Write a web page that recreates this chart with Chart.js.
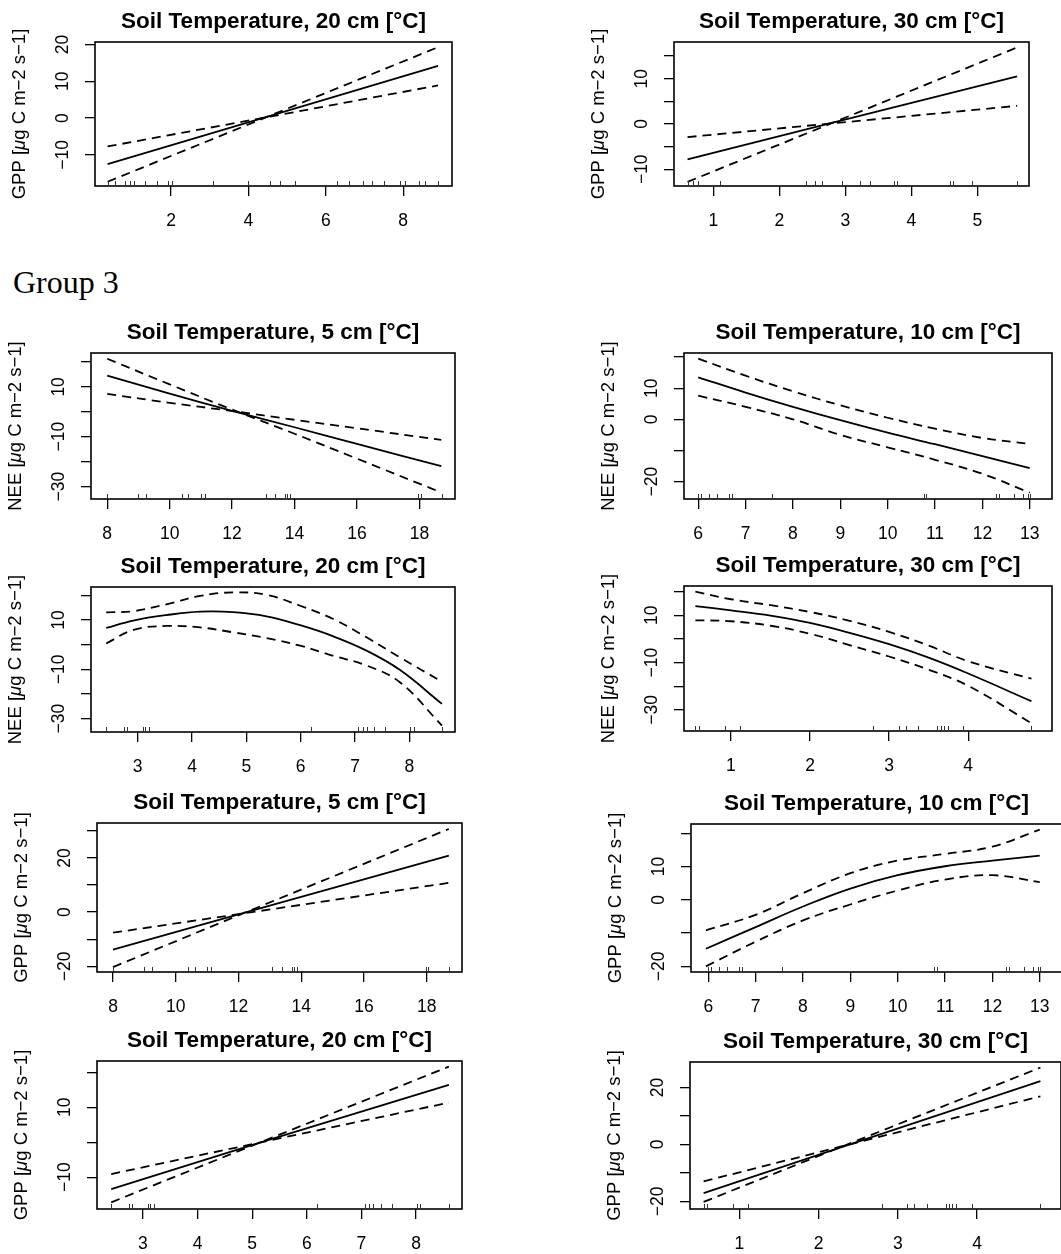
<!DOCTYPE html>
<html>
<head>
<meta charset="utf-8">
<script src="https://cdn.jsdelivr.net/npm/chart.js@4.4.0/dist/chart.umd.min.js"></script>
<style>
html, body { margin: 0; padding: 0; background: #fff; }
body { width: 1061px; height: 1254px; overflow: hidden; position: relative; }
.panel { position: absolute; }
#group { position: absolute; left: 13px; top: 266px; font: 32px "Liberation Serif", "Times New Roman", serif; line-height: 32px; color: #000; }
</style>
</head>
<body>
<div id="group">Group 3</div>
<script>
// ---- rug: observed soil temperatures for each depth ----
var rug20a = [0.36, 0.55, 0.81, 0.94, 1.03, 1.33, 1.63, 1.93, 2.02, 3.09, 4.0, 4.56, 4.82, 5.21, 6.28, 6.59, 6.97, 7.19, 7.49, 7.92, 8.05, 8.4, 8.57, 8.9];
var rug30a = [0.61, 0.70, 0.77, 1.10, 2.41, 2.54, 2.64, 2.95, 3.22, 3.37, 3.73, 3.78, 4.58, 4.63, 4.92, 5.6];
var rug5 = [8.0, 8.99, 9.23, 10.38, 10.6, 11.0, 11.13, 13.08, 13.37, 13.7, 13.77, 13.86, 17.97, 18.04, 18.71];
var rug10 = [6.0, 6.05, 6.23, 6.4, 6.65, 6.72, 7.56, 10.77, 10.82, 12.29, 12.36, 12.67, 12.85, 12.96, 13.0];
var rug20b = [2.42, 2.75, 2.8, 3.09, 3.13, 3.2, 6.19, 7.06, 7.14, 7.22, 7.35, 7.55, 8.01, 8.08, 8.6];
var rug30b = [0.55, 0.59, 0.92, 1.11, 2.80, 3.12, 3.21, 3.37, 3.61, 3.65, 3.69, 3.74, 3.94, 4.8];

// ---- fitted smooth (solid) and the two dashed bands, per panel ----
// top block, GPP 20 cm
var p1X = [0.36, 4.45, 8.9];
var p1Fit = [-12.5, 0.3, 14.2];
var p1A = [-7.7, 0.2, 8.9];
var p1B = [-17.3, 0.2, 19.3];
// top block, GPP 30 cm
var p2X = [0.61, 2.78, 5.6];
var p2Fit = [-7.8, 0.2, 10.5];
var p2A = [-2.9, 0.1, 4.0];
var p2B = [-12.8, 0.1, 16.9];
// group 3, NEE 5 cm
var p3X = [8, 10, 12, 14, 16, 18.7];
var p3Fit = [14.5, 7.3, 0.4, -6.2, -12.9, -21.8];
var p3A = [7.2, 3.6, 0.3, -3.2, -6.6, -11.3];
var p3B = [21.3, 11.0, 0.9, -8.8, -18.8, -32.4];
// group 3, NEE 10 cm
var p4X = [6, 7, 8, 9, 10, 11, 12, 13];
var p4Fit = [13.5, 8.6, 4.0, -0.3, -4.3, -8.0, -11.8, -15.7];
var p4A = [19.5, 14.0, 9.0, 4.5, 0.5, -3.0, -6.0, -7.9];
var p4B = [7.6, 4.0, 0.0, -5.0, -9.0, -13.0, -17.5, -23.6];
// group 3, NEE 20 cm
var p5X = [2.42, 2.92, 3.53, 4.15, 4.76, 5.37, 5.99, 6.6, 7.22, 7.83, 8.6];
var p5Fit = [6.8, 9.8, 12.0, 13.4, 13.2, 11.5, 7.9, 3.4, -2.5, -10.3, -24.0];
var p5A = [13.1, 13.6, 16.4, 19.8, 21.2, 20.2, 15.8, 10.4, 2.9, -5.2, -15.0];
var p5B = [0.5, 6.0, 7.6, 7.0, 5.0, 2.7, -0.4, -4.5, -8.5, -15.3, -32.8];
// group 3, NEE 30 cm
var p6X = [0.55, 1, 1.5, 2, 2.5, 3, 3.5, 4, 4.8];
var p6Fit = [13.9, 12.1, 9.9, 6.8, 2.6, -2.2, -7.9, -14.6, -26.3];
var p6A = [20.0, 16.8, 14.3, 11.4, 7.7, 3.0, -2.8, -9.4, -16.8];
var p6B = [7.9, 7.5, 5.6, 2.2, -2.6, -7.4, -13.0, -19.8, -35.6];
// group 3, GPP 5 cm
var p7X = [8, 12.14, 18.7];
var p7Fit = [-13.8, -0.4, 20.9];
var p7A = [-7.6, -0.5, 10.8];
var p7B = [-20.3, -0.5, 30.7];
// group 3, GPP 10 cm
var p8X = [5.95, 7, 8, 9, 10, 11, 12, 13];
var p8Fit = [-14.7, -8.2, -2.0, 3.4, 7.4, 10.1, 11.8, 13.3];
var p8A = [-9.2, -4.5, 2.0, 8.0, 11.8, 13.8, 16.0, 21.1];
var p8B = [-20.0, -12.6, -6.2, -1.4, 2.8, 6.1, 7.4, 5.3];
// group 3, GPP 20 cm
var p9X = [2.42, 5.14, 8.6];
var p9Fit = [-13.4, -0.1, 16.4];
var p9A = [-9.1, -0.1, 11.3];
var p9B = [-17.2, -0.1, 21.6];
// group 3, GPP 30 cm
var p10X = [0.55, 2.32, 4.8];
var p10Fit = [-17.1, -0.7, 22.2];
var p10A = [-13.0, -0.5, 16.9];
var p10B = [-20.2, -0.5, 27.0];

// ---- axis ticks (yl = the tick values R actually labelled) ----
var xt1 = [2, 4, 6, 8],           yt1 = [-10, 0, 10, 20],           yl1 = [-10, 0, 10, 20];
var xt2 = [1, 2, 3, 4, 5],        yt2 = [-10, -5, 0, 5, 10, 15],    yl2 = [-10, 0, 10];
var xt3 = [8, 10, 12, 14, 16, 18], yt3 = [-30, -20, -10, 0, 10, 20], yl3 = [-30, -10, 10];
var xt4 = [6, 7, 8, 9, 10, 11, 12, 13], yt4 = [-20, -10, 0, 10, 20], yl4 = [-20, 0, 10];
var xt5 = [3, 4, 5, 6, 7, 8],     yt5 = [-30, -20, -10, 0, 10, 20], yl5 = [-30, -10, 10];
var xt6 = [1, 2, 3, 4],           yt6 = [-30, -20, -10, 0, 10, 20], yl6 = [-30, -10, 10];
var xt7 = [8, 10, 12, 14, 16, 18], yt7 = [-20, -10, 0, 10, 20, 30], yl7 = [-20, 0, 20];
var xt8 = [6, 7, 8, 9, 10, 11, 12, 13], yt8 = [-20, -10, 0, 10, 20], yl8 = [-20, 0, 10];
var xt9 = [3, 4, 5, 6, 7, 8],     yt9 = [-10, 0, 10, 20],           yl9 = [-10, 10];
var xt10 = [1, 2, 3, 4],          yt10 = [-20, -10, 0, 10, 20],     yl10 = [-20, 0, 20];

var depth = ['20', '30', '5', '10', '20', '30', '5', '10', '20', '30'];
var flux = ['GPP', 'GPP', 'NEE', 'NEE', 'NEE', 'NEE', 'GPP', 'GPP', 'GPP', 'GPP'];

var FONT = '"Liberation Sans", Arial, Helvetica, sans-serif';

function minus(v) {
    return String(v).replace('-', '\u2212');
}

// box, rug, title, rotated y labels and y title the way R base graphics draws them
var rPlot = {
    id: 'rPlot',
    afterDraw: function (chart, args, o) {
        var ctx = chart.ctx, a = chart.chartArea;
        var xs = chart.scales.x, ys = chart.scales.y;
        ctx.save();
        ctx.strokeStyle = '#000';
        ctx.lineWidth = 1.6;
        ctx.strokeRect(a.left, a.top, a.right - a.left, a.bottom - a.top);

        ctx.lineWidth = 1;
        ctx.strokeStyle = '#333';
        o.rug.forEach(function (v) {
            var px = Math.round(xs.getPixelForValue(v)) + 0.5;
            ctx.beginPath();
            ctx.moveTo(px, a.bottom);
            ctx.lineTo(px, a.bottom - 5);
            ctx.stroke();
        });

        ctx.fillStyle = '#000';
        ctx.textAlign = 'center';
        ctx.textBaseline = 'middle';
        ctx.font = 'bold 22.5px ' + FONT;
        ctx.fillText(o.title, (a.left + a.right) / 2, a.top - 20);

        ctx.font = '17.5px ' + FONT;
        o.yLabels.forEach(function (v) {
            ctx.save();
            ctx.translate(a.left - 32, ys.getPixelForValue(v));
            ctx.rotate(-Math.PI / 2);
            ctx.fillText(minus(v), 0, 0);
            ctx.restore();
        });

        // y title with italic mu
        var parts = [[o.flux + ' [', '18.5px ' + FONT], ['\u03bc', 'italic 18.5px ' + FONT], ['g C m\u22122 s\u22121]', '18.5px ' + FONT]];
        var total = 0;
        parts.forEach(function (p) { ctx.font = p[1]; total += ctx.measureText(p[0]).width; });
        ctx.translate(a.left - 75, (a.top + a.bottom) / 2);
        ctx.rotate(-Math.PI / 2);
        ctx.textAlign = 'left';
        var cx = -total / 2;
        parts.forEach(function (p) {
            ctx.font = p[1];
            ctx.fillText(p[0], cx, 0);
            cx += ctx.measureText(p[0]).width;
        });
        ctx.restore();
    }
};

var panels = [
    {col: 0, box: [95, 42, 452, 186],    x: [0.035, 9.26], y: [-18.45, 20.7], xt: xt1, yt: yt1, yl: yl1, xs: p1X, fit: p1Fit, a: p1A, b: p1B, rug: rug20a, smooth: false},
    {col: 1, box: [674, 42, 1029, 186],  x: [0.405, 5.78], y: [-13.7, 18.1],  xt: xt2, yt: yt2, yl: yl2, xs: p2X, fit: p2Fit, a: p2A, b: p2B, rug: rug30a, smooth: false},
    {col: 0, box: [91, 353, 455, 499],   x: [7.48, 19.14], y: [-35.0, 23.6],  xt: xt3, yt: yt3, yl: yl3, xs: p3X, fit: p3Fit, a: p3A, b: p3B, rug: rug5, smooth: true},
    {col: 1, box: [684, 353, 1052, 499], x: [5.70, 13.47], y: [-25.6, 21.3],  xt: xt4, yt: yt4, yl: yl4, xs: p4X, fit: p4Fit, a: p4A, b: p4B, rug: rug10, smooth: true},
    {col: 0, box: [91, 587, 455, 732],   x: [2.14, 8.84],  y: [-35.4, 23.4],  xt: xt5, yt: yt5, yl: yl5, xs: p5X, fit: p5Fit, a: p5A, b: p5B, rug: rug20b, smooth: true},
    {col: 1, box: [684, 586, 1052, 731], x: [0.406, 5.06], y: [-38.9, 22.4],  xt: xt6, yt: yt6, yl: yl6, xs: p6X, fit: p6Fit, a: p6A, b: p6B, rug: rug30b, smooth: true},
    {col: 0, box: [97, 823, 462, 972],   x: [7.49, 19.12], y: [-22.1, 32.9],  xt: xt7, yt: yt7, yl: yl7, xs: p7X, fit: p7Fit, a: p7A, b: p7B, rug: rug5, smooth: false},
    {col: 1, box: [691, 824, 1062, 972], x: [5.635, 13.47], y: [-21.7, 22.8], xt: xt8, yt: yt8, yl: yl8, xs: p8X, fit: p8Fit, a: p8A, b: p8B, rug: rug10, smooth: true},
    {col: 0, box: [97, 1061, 462, 1209], x: [2.16, 8.84],  y: [-19.1, 23.2],  xt: xt9, yt: yt9, yl: yl9, xs: p9X, fit: p9Fit, a: p9A, b: p9B, rug: rug20b, smooth: false},
    {col: 1, box: [690, 1062, 1061, 1209], x: [0.378, 5.06], y: [-22.7, 28.95], xt: xt10, yt: yt10, yl: yl10, xs: p10X, fit: p10Fit, a: p10A, b: p10B, rug: rug30b, smooth: false}
];

function makePanel(p, i) {
    var left = p.col ? 530 : 0;
    var top = p.box[1] - 42;
    var w = p.col ? 550 : 530;
    var h = p.box[3] - p.box[1] + 42 + 52;

    var div = document.createElement('div');
    div.className = 'panel';
    div.style.left = left + 'px';
    div.style.top = top + 'px';
    var cv = document.createElement('canvas');
    cv.width = w;
    cv.height = h;
    cv.style.width = w + 'px';
    cv.style.height = h + 'px';
    div.appendChild(cv);
    document.body.appendChild(div);

    function line(ys, dash) {
        return {
            data: p.xs.map(function (x, k) { return {x: x, y: ys[k]}; }),
            showLine: true,
            pointRadius: 0,
            borderColor: '#000',
            borderWidth: 1.8,
            borderDash: dash,
            tension: p.smooth ? 0.4 : 0,
            fill: false
        };
    }

    var tickGrid = {display: true, drawOnChartArea: false, drawTicks: true, tickLength: 10, color: '#000', lineWidth: 1.3};

    new Chart(cv, {
        type: 'scatter',
        data: {datasets: [line(p.fit, []), line(p.a, [9, 6]), line(p.b, [9, 6])]},
        options: {
            responsive: false,
            animation: false,
            devicePixelRatio: 1,
            layout: {padding: {left: 0, top: p.box[1] - top, right: left + w - p.box[2], bottom: 0}},
            plugins: {
                legend: {display: false},
                tooltip: {enabled: false},
                rPlot: {title: 'Soil Temperature, ' + depth[i] + ' cm [\u00b0C]', flux: flux[i], yLabels: p.yl, rug: p.rug}
            },
            scales: {
                x: {
                    type: 'linear',
                    min: p.x[0],
                    max: p.x[1],
                    afterBuildTicks: function (s) { s.ticks = p.xt.map(function (v) { return {value: v}; }); },
                    afterFit: function (s) { s.height = top + h - p.box[3]; },
                    border: {display: false},
                    grid: tickGrid,
                    ticks: {autoSkip: false, maxRotation: 0, minRotation: 0, padding: 15, color: '#000',
                        font: {family: FONT, size: 17.5}, callback: function (v) { return minus(v); }}
                },
                y: {
                    type: 'linear',
                    min: p.y[0],
                    max: p.y[1],
                    afterBuildTicks: function (s) { s.ticks = p.yt.map(function (v) { return {value: v}; }); },
                    afterFit: function (s) { s.width = p.box[0] - left; },
                    border: {display: false},
                    grid: tickGrid,
                    ticks: {display: false}
                }
            }
        },
        plugins: [rPlot]
    });
}

panels.forEach(makePanel);
</script>
</body>
</html>
